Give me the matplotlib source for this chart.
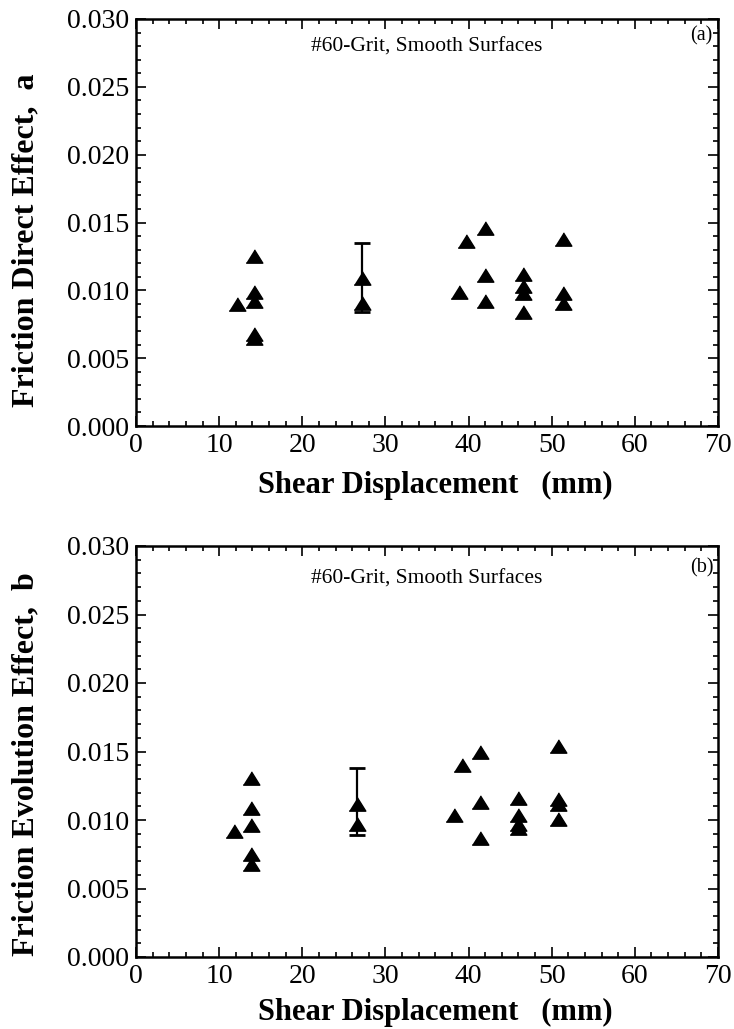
import matplotlib
matplotlib.use("Agg")
import matplotlib.pyplot as plt
from matplotlib.ticker import MultipleLocator, FormatStrFormatter

# ---- data ----
xa = [12.2, 14.2, 14.2, 14.2, 14.2, 14.2, 27.2, 27.2, 38.8, 39.7,
      42.0, 42.0, 42.0, 46.5, 46.5, 46.5, 46.5, 51.4, 51.4, 51.4]
ya = [0.0090, 0.0125, 0.0099, 0.0092, 0.0068, 0.0065, 0.0109, 0.0091, 0.0099, 0.0136,
      0.0146, 0.0111, 0.0092, 0.0112, 0.0103, 0.0098, 0.0084, 0.0138, 0.0098, 0.0091]
err_a_x = [27.2]
err_a_low = [0.0084]
err_a_high = [0.0135]

xb = [11.8, 13.8, 13.8, 13.8, 13.8, 13.8, 26.6, 26.6, 38.2, 39.2,
      41.4, 41.4, 41.4, 45.9, 45.9, 45.9, 45.9, 50.8, 50.8, 50.8, 50.8]
yb = [0.0092, 0.0131, 0.0109, 0.0096, 0.0075, 0.0068, 0.0112, 0.0097, 0.0104, 0.0140,
      0.0150, 0.0113, 0.0087, 0.0116, 0.0104, 0.0097, 0.0094, 0.0154, 0.0115, 0.0112, 0.0101]
err_b_x = [26.6]
err_b_low = [0.0089]
err_b_high = [0.0138]

xlabel = "Shear Displacement   (mm)"
ylabel_a = "Friction Direct Effect,  a"
ylabel_b = "Friction Evolution Effect,  b"
note = "#60-Grit, Smooth Surfaces"

plt.rcParams['font.family'] = ['Liberation Serif', 'DejaVu Serif']

fig = plt.figure(figsize=(7.34, 10.29), dpi=100)
ax_a = fig.add_axes([136/734, 1-426/1029, 582/734, 407/1029])
ax_b = fig.add_axes([136/734, 1-957/1029, 582/734, 411/1029])

tri = [(-1, -0.8), (1, -0.8), (0, 0.8)]

def style(ax, xs, ys, ex, elo, ehi, ylab, tag, note_y, tag_y, ylab_y, xlab_y):
    mid = [(l + h) / 2 for l, h in zip(elo, ehi)]
    yerr = [[m - l for m, l in zip(mid, elo)], [h - m for h, m in zip(ehi, mid)]]
    ax.errorbar(ex, mid, yerr=yerr, fmt='none', ecolor='black', elinewidth=1.6,
                capsize=6, capthick=2.0, zorder=2)
    ax.plot(xs, ys, linestyle='none', marker=tri, markersize=12, color='black', zorder=3)
    ax.set_xlim(0, 70)
    ax.set_ylim(0, 0.030)
    ax.xaxis.set_major_locator(MultipleLocator(10))
    ax.xaxis.set_minor_locator(MultipleLocator(2))
    ax.yaxis.set_major_locator(MultipleLocator(0.005))
    ax.yaxis.set_minor_locator(MultipleLocator(0.001))
    ax.yaxis.set_major_formatter(FormatStrFormatter('%.3f'))
    ax.tick_params(which='both', direction='in', top=True, right=True, width=1.2)
    ax.tick_params(which='major', length=7, labelsize=20, pad=5)
    ax.tick_params(which='minor', length=3.5)
    for s in ax.spines.values():
        s.set_linewidth(1.8)
    ax.set_xlabel(xlabel, fontsize=22, fontweight='bold')
    ax.set_ylabel(ylab, fontsize=23, fontweight='bold')
    ax.xaxis.set_label_coords(0.514, xlab_y)
    ax.yaxis.set_label_coords(-0.165, ylab_y)
    ax.text(0.5, note_y, note, transform=ax.transAxes, ha='center', va='center', fontsize=15.5)
    ax.text(0.972, tag_y, tag, transform=ax.transAxes, ha='center', va='center', fontsize=14.5)

style(ax_a, xa, ya, err_a_x, err_a_low, err_a_high, ylabel_a, "(a)", 0.930, 0.958, 0.457, -0.110)
style(ax_b, xb, yb, err_b_x, err_b_low, err_b_high, ylabel_b, "(b)", 0.920, 0.948, 0.470, -0.100)

fig.savefig("out.png", dpi=100)
